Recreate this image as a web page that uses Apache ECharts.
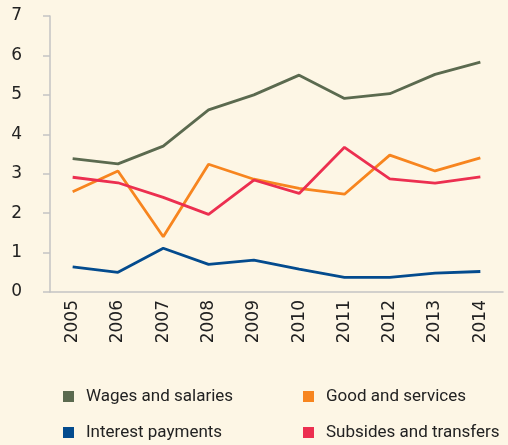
<!DOCTYPE html>
<html>
<head>
<meta charset="utf-8">
<style>
  html, body { margin: 0; padding: 0; background: #fdf6e5; }
  #chart { width: 508px; height: 445px; }
</style>
<script src="https://cdn.jsdelivr.net/npm/echarts@6/dist/echarts.min.js"></script>
</head>
<body>
<div id="chart"></div>
<script>
var years = ['2005', '2006', '2007', '2008', '2009', '2010', '2011', '2012', '2013', '2014'];
var wages = [3.38, 3.25, 3.70, 4.62, 5.00, 5.50, 4.91, 5.03, 5.52, 5.83];
var goods = [2.54, 3.07, 1.40, 3.24, 2.86, 2.63, 2.48, 3.47, 3.07, 3.40];
var interest = [0.64, 0.50, 1.11, 0.70, 0.81, 0.58, 0.37, 0.37, 0.48, 0.52];
var subsides = [2.91, 2.77, 2.40, 1.97, 2.84, 2.50, 3.67, 2.87, 2.76, 2.92];

var names = ['Wages and salaries', 'Good and services', 'Interest payments', 'Subsides and transfers'];
var colors = ['#5b6a4f', '#f7851f', '#034b8e', '#ec2f50'];
var values = [wages, goods, interest, subsides];

var font = 'DejaVu Sans';
var legendFont = 'Roboto';
var ink = '#222222';
var axisGray = '#c3c3c3';

var chart = echarts.init(document.getElementById('chart'), null, { renderer: 'canvas' });

// one legend per item so they sit on a 2x2 grid
var legendPos = [[63, 388], [303, 388], [63, 424], [303, 424]];
var legends = names.map(function(n, i) {
  return {
    data: [n],
    left: legendPos[i][0],
    top: legendPos[i][1],
    icon: 'rect',
    itemWidth: 11,
    itemHeight: 11,
    itemGap: 0,
    padding: 0,
    textStyle: { color: ink, fontFamily: legendFont, fontSize: 17, padding: [0, 0, 0, 7] }
  };
});

chart.setOption({
  animation: false,
  backgroundColor: '#fdf6e5',
  color: colors,
  legend: legends,
  grid: { left: 50, right: 5, top: 16, bottom: 153 },
  xAxis: {
    type: 'category',
    data: years,
    boundaryGap: true,
    axisLine: { lineStyle: { color: axisGray, width: 1.5 } },
    axisTick: { show: false },
    axisLabel: { rotate: 90, margin: 8, color: ink, fontFamily: font, fontSize: 17 }
  },
  yAxis: {
    type: 'value',
    min: 0,
    max: 7,
    interval: 1,
    splitLine: { show: false },
    axisLine: { show: true, lineStyle: { color: axisGray, width: 1.5 } },
    axisTick: { show: true, length: 7, lineStyle: { color: axisGray, width: 1.5 } },
    axisLabel: { margin: 28, color: ink, fontFamily: font, fontSize: 17 }
  },
  series: names.map(function(n, i) {
    return {
      name: n,
      type: 'line',
      data: values[i],
      showSymbol: false,
      symbol: 'none',
      lineStyle: { width: 2.8, color: colors[i] },
      itemStyle: { color: colors[i] }
    };
  })
});
window.addEventListener('resize', function() { chart.resize(); });
</script>
</body>
</html>
